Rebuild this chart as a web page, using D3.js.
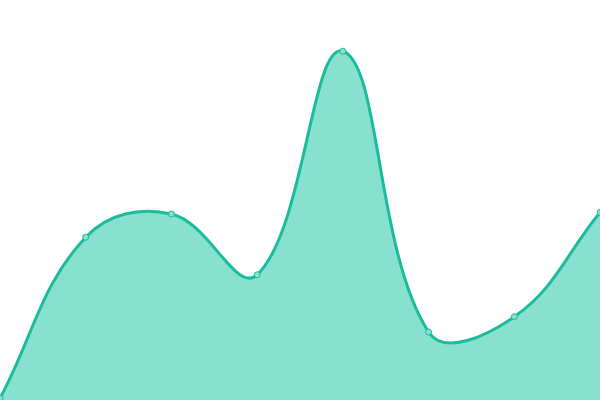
<!DOCTYPE html>
<html>
<head>
<meta charset="utf-8">
<script src="https://cdn.jsdelivr.net/npm/d3@7"></script>
<style>
  html, body { margin: 0; padding: 0; background: #fff; }
  svg { display: block; }
</style>
</head>
<body>
<svg id="chart" width="600" height="400"></svg>
<script>
// chart values
const categories = ['A', 'B', 'C', 'D', 'E', 'F', 'G', 'H'];
const values = [0.4, 40.7, 46.5, 31.3, 87.2, 17, 20.8, 46.9];
const yDomain = [0, 100];

const width = 600;
const height = 400;
const tension = 0.4;
const svg = d3.select('#chart');

// spline with distance-weighted control points (tension 0.4)
function SplineCurve(context) {
  this._context = context;
}
SplineCurve.prototype = {
  areaStart() { this._line = 0; },
  areaEnd() { this._line = NaN; },
  lineStart() { this._pts = []; },
  point(x, y) { this._pts.push([+x, +y]); },
  lineEnd() {
    const p = this._pts;
    const n = p.length;
    const ctx = this._context;
    if (n) {
      if (this._line) ctx.lineTo(p[0][0], p[0][1]);
      else ctx.moveTo(p[0][0], p[0][1]);
      const cps = p.map((cur, i) => {
        const prev = p[i - 1] || cur;
        const next = p[i + 1] || cur;
        const d01 = Math.hypot(cur[0] - prev[0], cur[1] - prev[1]);
        const d12 = Math.hypot(next[0] - cur[0], next[1] - cur[1]);
        let s01 = d01 / (d01 + d12);
        let s12 = d12 / (d01 + d12);
        if (isNaN(s01)) s01 = 0;
        if (isNaN(s12)) s12 = 0;
        const fa = tension * s01;
        const fb = tension * s12;
        const dx = next[0] - prev[0];
        const dy = next[1] - prev[1];
        return {
          prev: [cur[0] - fa * dx, cur[1] - fa * dy],
          next: [cur[0] + fb * dx, cur[1] + fb * dy]
        };
      });
      for (let i = 1; i < n; i++) {
        const a = cps[i - 1].next;
        const b = cps[i].prev;
        ctx.bezierCurveTo(a[0], a[1], b[0], b[1], p[i][0], p[i][1]);
      }
    }
    if (this._line || (this._line !== 0 && n === 1)) ctx.closePath();
    this._line = 1 - this._line;
  }
};
const splineCurve = context => new SplineCurve(context);

const x = d3.scalePoint().domain(categories).range([0, width]);
const y = d3.scaleLinear().domain(yDomain).range([height, 0]);

const data = categories.map((c, i) => ({ c, v: values[i] }));

const area = d3.area()
  .x(d => x(d.c))
  .y0(y(0))
  .y1(d => y(d.v))
  .curve(splineCurve);

const line = d3.line()
  .x(d => x(d.c))
  .y(d => y(d.v))
  .curve(splineCurve);

svg.append('path')
  .datum(data)
  .attr('fill', '#88e0ce')
  .attr('d', area);

svg.append('path')
  .datum(data)
  .attr('fill', 'none')
  .attr('stroke', '#1abc9c')
  .attr('stroke-width', 3)
  .attr('d', line);

svg.selectAll('circle.pt')
  .data(data)
  .enter()
  .append('circle')
  .attr('class', 'pt')
  .attr('cx', d => x(d.c))
  .attr('cy', d => y(d.v))
  .attr('r', 3)
  .attr('fill', '#88e0ce')
  .attr('stroke', '#1abc9c')
  .attr('stroke-width', 1);
</script>
</body>
</html>
